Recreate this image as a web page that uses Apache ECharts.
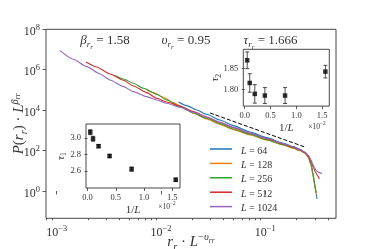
<!DOCTYPE html>
<html><head><meta charset="utf-8">
<script src="https://cdn.jsdelivr.net/npm/echarts@6/dist/echarts.min.js"></script>
<style>html,body{margin:0;padding:0;background:#fff}#c{width:374px;height:249px}</style>
</head><body><div id="c"></div>
<script>
// ---- data (log10 of r_r*L^-v and of P*L^beta) ----
const seriesNames = ['L = 64', 'L = 128', 'L = 256', 'L = 512', 'L = 1024'];
const logX_L64 = [-1.832,-1.752,-1.656,-1.560,-1.433,-1.305,-1.145,-0.985,-0.825,-0.729,-0.665,-0.617,-0.585,-0.559,-0.540,-0.524,-0.511,-0.502];
const logY_L64 = [4.404,4.223,4.009,3.794,3.514,3.233,2.920,2.640,2.359,2.194,2.062,1.914,1.700,1.287,0.792,0.297,-0.115,-0.395];
const logX_L128 = [-2.146,-2.072,-1.976,-1.880,-1.784,-1.688,-1.560,-1.433,-1.305,-1.145,-0.985,-0.825,-0.729,-0.665,-0.617,-0.585,-0.559,-0.543,-0.530,-0.518,-0.508];
const logY_L128 = [5.048,4.866,4.635,4.371,4.108,3.844,3.563,3.299,3.035,2.772,2.524,2.277,2.112,1.996,1.864,1.666,1.287,0.875,0.462,0.083,-0.115];
const logX_L256 = [-2.447,-2.360,-2.264,-2.168,-2.040,-1.944,-1.816,-1.688,-1.560,-1.433,-1.305,-1.145,-0.985,-0.825,-0.729,-0.665,-0.617,-0.585,-0.559,-0.543,-0.530,-0.518,-0.511];
const logY_L256 = [5.724,5.543,5.328,5.081,4.784,4.503,4.174,3.860,3.596,3.332,3.068,2.805,2.541,2.293,2.128,2.013,1.881,1.700,1.370,0.957,0.545,0.132,-0.082];
const logX_L512 = [-2.718,-2.616,-2.488,-2.360,-2.264,-2.136,-2.040,-1.944,-1.816,-1.688,-1.560,-1.433,-1.305,-1.145,-0.985,-0.825,-0.729,-0.665,-0.617,-0.585,-0.559,-0.537,-0.518,-0.498,-0.479];
const logY_L512 = [6.384,6.136,5.790,5.477,5.196,4.866,4.586,4.404,4.207,3.926,3.662,3.398,3.134,2.854,2.590,2.326,2.161,2.029,1.897,1.732,1.469,1.172,0.941,0.759,0.594];
const logX_L1024 = [-2.968,-2.840,-2.712,-2.584,-2.488,-2.360,-2.264,-2.136,-2.040,-1.944,-1.816,-1.688,-1.560,-1.433,-1.305,-1.145,-0.985,-0.825,-0.729,-0.665,-0.617,-0.585,-0.562,-0.543,-0.524,-0.505,-0.479,-0.454];
const logY_L1024 = [6.944,6.516,6.153,5.790,5.493,5.163,4.916,4.668,4.503,4.338,4.141,3.893,3.646,3.398,3.151,2.870,2.607,2.343,2.178,2.046,1.914,1.765,1.567,1.337,1.122,0.990,0.908,0.858];
const guideLogX = [-1.529, -0.617];
const guideLogY = [3.861, 2.174];
// insets: 1/L (x10^-2)
const invL = [0.0488, 0.0977, 0.1953, 0.3906, 0.7813, 1.5625];
const tau2 = [1.870, 1.816, 1.790, 1.786, 1.786, 1.843];
const tau2Err = [0.020, 0.022, 0.022, 0.019, 0.019, 0.015];
const tau1 = [3.07, 2.99, 2.90, 2.78, 2.62, 2.49];
const tau1Err = [0.030, 0.030, 0.020, 0.020, 0.025, 0.020];
// tick labels
const xMajorTicks = [-3, -2, -1];
const yMajorTicks = [0, 2, 4, 6, 8];
const insetXTicks = [0, 0.5, 1.0, 1.5];
const tau2Ticks = [1.80, 1.85];
const tau1Ticks = [2.6, 2.8, 3.0];
const annBeta = '1.58', annNu = '0.95', annTau = '1.666';

const colors = ['#1f77b4', '#ff7f0e', '#2ca02c', '#d62728', '#9467bd'];
const FONT = 'Liberation Serif';
const TXT = '#333';

function richSet(B) {
  const P0 = 0.2 * B;
  const bB = P0 + 0.83 * B;
  function tok(size, italic, baseline) {
    return { fontFamily: FONT, fontStyle: italic ? 'italic' : 'normal', fontSize: size,
      lineHeight: size, verticalAlign: 'top', padding: [Math.max(0, baseline - 0.83 * size), 0, 0, 0],
      color: TXT, fill: TXT };
  }
  return {
    m: tok(B, true, bB),
    n: tok(B, false, bB),
    s: tok(0.7 * B, true, bB + 0.22 * B),
    sn: tok(0.7 * B, false, bB + 0.22 * B),
    ss: tok(0.55 * B, true, bB + 0.36 * B),
    u: tok(0.7 * B, true, bB - 0.42 * B),
    un: tok(0.7 * B, false, bB - 0.42 * B),
    us: tok(0.5 * B, true, bB - 0.26 * B)
  };
}
const pow10 = v => '{n|10}{un|' + (Math.round(v) < 0 ? '\u2212' + Math.abs(Math.round(v)) : Math.round(v)) + '}';

const minorX = [];
for (let n = -4; n <= -1; n++) for (let k = 2; k <= 9; k++) {
  const v = Math.log10(k * Math.pow(10, n));
  if (v > -3.103 && v < -0.3196) minorX.push(v);
}

const logX = [logX_L64, logX_L128, logX_L256, logX_L512, logX_L1024];
const logY = [logY_L64, logY_L128, logY_L256, logY_L512, logY_L1024];

const series = seriesNames.map((nm, i) => ({
  name: nm, type: 'line', xAxisIndex: 0, yAxisIndex: 0, showSymbol: false,
  smooth: 0.2, smoothMonotone: 'x',
  data: logX[i].map((x, j) => [x, logY[i][j]]),
  lineStyle: { color: colors[i], width: 1.1 }, itemStyle: { color: colors[i] }, z: 3
}));
series.push({
  type: 'line', xAxisIndex: 0, yAxisIndex: 0, showSymbol: false,
  data: guideLogX.map((x, j) => [x, guideLogY[j]]),
  lineStyle: { color: '#000', width: 1, type: [4, 2] }, z: 4
});
function errSeries(xi, yi, vals, errs) {
  return {
    type: 'custom', xAxisIndex: xi, yAxisIndex: yi, z: 5,
    data: invL.map((x, j) => [x, vals[j] - errs[j], vals[j] + errs[j]]),
    encode: { x: 0, y: [1, 2] },
    renderItem: (params, api) => {
      const x = api.value(0);
      const lo = api.coord([x, api.value(1)]);
      const hi = api.coord([x, api.value(2)]);
      const st = { stroke: '#222', lineWidth: 0.8 };
      const c = 2;
      return { type: 'group', children: [
        { type: 'line', shape: { x1: lo[0], y1: lo[1], x2: hi[0], y2: hi[1] }, style: st },
        { type: 'line', shape: { x1: lo[0] - c, y1: lo[1], x2: lo[0] + c, y2: lo[1] }, style: st },
        { type: 'line', shape: { x1: hi[0] - c, y1: hi[1], x2: hi[0] + c, y2: hi[1] }, style: st }
      ]};
    }
  };
}
series.push(errSeries(2, 1, tau2, tau2Err));
series.push({ type: 'scatter', xAxisIndex: 2, yAxisIndex: 1, symbol: 'rect', symbolSize: 4.5, z: 6,
  itemStyle: { color: '#000' }, data: invL.map((x, j) => [x, tau2[j]]) });
series.push(errSeries(3, 2, tau1, tau1Err));
series.push({ type: 'scatter', xAxisIndex: 3, yAxisIndex: 2, symbol: 'rect', symbolSize: 4.5, z: 6,
  itemStyle: { color: '#000' }, data: invL.map((x, j) => [x, tau1[j]]) });

const tickStyle = { color: '#333', width: 0.8 };
function insetX(gi, name, gap) {
  return { type: 'value', gridIndex: gi, min: -0.027, max: 1.638,
    axisLine: { show: false }, splitLine: { show: false },
    axisTick: { show: true, customValues: insetXTicks, length: 3, lineStyle: tickStyle },
    axisLabel: { show: true, customValues: insetXTicks, margin: 5, formatter: v => v.toFixed(1),
      fontFamily: FONT, fontSize: 8.5, color: TXT, hideOverlap: false },
    name: name, nameLocation: 'middle', nameGap: gap, nameMoveOverlap: false,
    nameTextStyle: { rich: richSet(11) } };
}
function insetY(gi, min, max, ticks, dec, name, gap) {
  return { type: 'value', gridIndex: gi, min: min, max: max,
    axisLine: { show: false }, splitLine: { show: false },
    axisTick: { show: true, customValues: ticks, length: 3, lineStyle: tickStyle },
    axisLabel: { show: true, customValues: ticks, margin: 5, formatter: v => v.toFixed(dec),
      fontFamily: FONT, fontSize: 8.5, color: TXT },
    name: name, nameLocation: 'middle', nameRotate: 90, nameGap: gap, nameMoveOverlap: false,
    nameTextStyle: { rich: richSet(11) } };
}
const gridBase = { show: true, borderColor: '#333', borderWidth: 0.9, outerBoundsMode: 'none', containLabel: false };

const option = {
  animation: false,
  backgroundColor: '#fff',
  grid: [
    Object.assign({ left: 46, top: 29.3, width: 290, height: 189, backgroundColor: 'transparent' }, gridBase),
    Object.assign({ left: 243.3, top: 49.3, width: 86, height: 56.8, backgroundColor: '#fff' }, gridBase),
    Object.assign({ left: 86, top: 124, width: 94, height: 64, backgroundColor: '#fff' }, gridBase)
  ],
  xAxis: [
    { type: 'value', gridIndex: 0, min: -3.103, max: -0.3196,
      axisLine: { show: false }, splitLine: { show: false },
      axisTick: { show: true, customValues: xMajorTicks, length: 3.5, lineStyle: tickStyle },
      axisLabel: { show: true, customValues: xMajorTicks, margin: 6, formatter: pow10, rich: richSet(12) },
      name: '{m|r}{s|r}{n| \u00b7 }{m|L}{un|\u2212}{u|\u03c5}{us|rr}', nameLocation: 'middle', nameGap: 13,
      nameMoveOverlap: false, nameTextStyle: { rich: richSet(15) } },
    { type: 'value', gridIndex: 0, min: -3.103, max: -0.3196, position: 'bottom',
      axisLine: { show: false }, splitLine: { show: false },
      axisTick: { show: true, customValues: minorX, length: 2, lineStyle: tickStyle },
      axisLabel: { show: false } },
    insetX(1, '{n|1/}{m|L}', 14),
    insetX(2, '{n|1/}{m|L}', 14)
  ],
  yAxis: [
    { type: 'value', gridIndex: 0, min: -1.35, max: 8,
      axisLine: { show: false }, splitLine: { show: false },
      axisTick: { show: true, customValues: yMajorTicks, length: 3.5, lineStyle: tickStyle },
      axisLabel: { show: true, customValues: yMajorTicks, margin: 6, formatter: pow10, rich: richSet(12) },
      name: '{m|P}{n|(}{m|r}{s|r}{n|) \u00b7 }{m|L}{u|\u03b2}{us|rr}', nameLocation: 'middle', nameRotate: 90, nameGap: 22,
      nameMoveOverlap: false, nameTextStyle: { rich: richSet(15) } },
    insetY(1, 1.7609, 1.8962, tau2Ticks, 2, '{m|\u03c4}{sn|2}', 25),
    insetY(2, 2.39, 3.17, tau1Ticks, 1, '{m|\u03c4}{sn|1}', 22)
  ],
  legend: {
    data: seriesNames, orient: 'vertical', left: 210, top: 144, padding: 0,
    itemWidth: 22, itemHeight: 1.5, itemGap: 2.4, icon: 'rect',
    formatter: nm => '{m|L}{n| = ' + nm.slice(4) + '}',
    textStyle: { padding: [0, 0, 0, 4], rich: richSet(10) }
  },
  graphic: [
    { type: 'text', x: 105, y: 38, style: { text: '{m|\u03b2}{s|r}{ss|r}{n| = ' + annBeta + '}', rich: richSet(13), align: 'center', verticalAlign: 'middle', fill: TXT } },
    { type: 'text', x: 186, y: 38, style: { text: '{m|\u03c5}{s|r}{ss|r}{n| = ' + annNu + '}', rich: richSet(13), align: 'center', verticalAlign: 'middle', fill: TXT } },
    { type: 'text', x: 270.5, y: 38, style: { text: '{m|\u03c4}{s|r}{ss|r}{n| = ' + annTau + '}', rich: richSet(13), align: 'center', verticalAlign: 'middle', fill: TXT } },
    { type: 'text', x: 317, y: 125, style: { text: '{n|\u00d710}{un|\u2212' + 2 + '}', rich: richSet(7.5), align: 'center', verticalAlign: 'middle', fill: TXT } },
    { type: 'text', x: 167, y: 205, style: { text: '{n|\u00d710}{un|\u2212' + 2 + '}', rich: richSet(7.5), align: 'center', verticalAlign: 'middle', fill: TXT } }
  ],
  series: series
};
const chart = echarts.init(document.getElementById('c'), null, { renderer: 'canvas' });
chart.setOption(option);
</script>
</body></html>
